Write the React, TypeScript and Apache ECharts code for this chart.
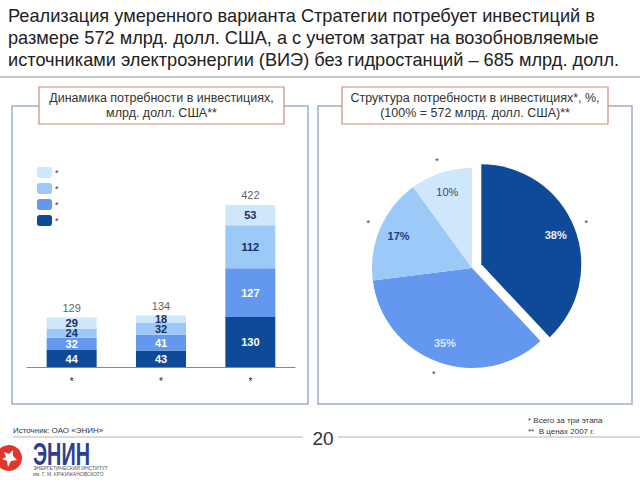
import React, { useEffect, useRef } from "react";
import * as echarts from "echarts";

const titleLines = [
  "Реализация умеренного варианта Стратегии потребует инвестиций в",
  "размере 572 млрд. долл. США, а с учетом затрат на возобновляемые",
  "источниками электроэнергии (ВИЭ) без гидростанций – 685 млрд. долл.",
];
const leftTitle = ["Динамика потребности в инвестициях,", "млрд. долл. США**"];
const rightTitle = ["Структура потребности в инвестициях*, %,", "(100% = 572 млрд. долл. США)**"];

const categories = ["*", "*", "*"];
const seriesNames = ["s1", "s2", "s3", "s4"];
const seriesValues1 = [44, 43, 130];
const seriesValues2 = [32, 41, 127];
const seriesValues3 = [24, 32, 112];
const seriesValues4 = [29, 18, 53];
const totals = [129, 134, 422];

const pieLabels = ["*", "*", "*", "*"];
const pieValues = [38, 35, 17, 10];

const footnotes = ["* Всего за три этапа", "**  В ценах 2007 г."];
const sourceText = "Источник: ОАО «ЭНИН»";
const pageNumber = "20";

const COLORS = ["#0E4A98", "#6498EE", "#9CC9F8", "#CFE7FB"];
const LABEL_COLORS = ["#FFFFFF", "#FFFFFF", "#1B2E5A", "#1B2E5A"];
const PIE_LABEL_COLORS = ["#E8EEFA", "#DCE6FA", "#1F3F80", "#3B4A66"];
const FONT = '"Liberation Sans", Arial, sans-serif';

export default function App() {
  const ref = useRef<HTMLDivElement>(null);
  useEffect(() => {
    if (!ref.current) return;
    const chart = echarts.init(ref.current, undefined, { renderer: "svg" });
    const barData = [seriesValues1, seriesValues2, seriesValues3, seriesValues4];
    const barSeries: any[] = barData.map((vals, i) => ({
      name: seriesNames[i],
      type: "bar",
      stack: "a",
      barWidth: 50,
      data: vals,
      itemStyle: { color: COLORS[i] },
      label: {
        show: true,
        position: "inside",
        color: LABEL_COLORS[i],
        fontSize: 11,
        fontWeight: "bold",
        fontFamily: FONT,
      },
      z: 2,
    }));
    barSeries.push({
      name: "totals",
      type: "scatter",
      data: totals,
      symbolSize: 0,
      itemStyle: { color: "transparent" },
      label: {
        show: true,
        position: "top",
        distance: 4,
        color: "#333",
        fontSize: 11,
        fontFamily: FONT,
      },
      silent: true,
    });

    const pieMain = pieValues.map((v, i) => ({
      value: v,
      name: "p" + i,
      selected: i === 0,
      itemStyle: { color: COLORS[i] },
    }));
    const pieInner = pieValues.map((v, i) => ({
      value: v,
      name: "p" + i,
      selected: i === 0,
      label: { color: PIE_LABEL_COLORS[i], fontWeight: i === 3 ? "normal" : "bold" },
    }));
    const pieOuter = pieValues.map((v, i) => ({
      value: v,
      name: pieLabels[i] + i,
      selected: i === 0,
    }));

    const txt = (text: string, x: number, y: number, size: number, extra: any = {}) => ({
      type: "text",
      x,
      y,
      style: {
        text,
        fill: "#222",
        font: `${size}px ${FONT}`,
        verticalAlign: "middle",
        ...extra,
      },
    });

    const graphic: any[] = [
      ...titleLines.map((t, i) => txt(t, 8, 16 + 22 * i, 18.2, { fill: "#222" })),
      { type: "line", shape: { x1: 0, y1: 77, x2: 640, y2: 77 }, style: { stroke: "#B4B4B4", lineWidth: 1.5 } },
      { type: "rect", shape: { x: 12, y: 106, width: 296, height: 298 }, style: { fill: "none", stroke: "#9AAECB", lineWidth: 1.5 } },
      { type: "rect", shape: { x: 318, y: 106, width: 314, height: 298 }, style: { fill: "none", stroke: "#9AAECB", lineWidth: 1.5 } },
      { type: "rect", shape: { x: 39, y: 87, width: 245, height: 37 }, style: { fill: "#fff", stroke: "#C98A7C", lineWidth: 1.2 } },
      { type: "rect", shape: { x: 342, y: 87, width: 266, height: 37 }, style: { fill: "#fff", stroke: "#C98A7C", lineWidth: 1.2 } },
      ...leftTitle.map((t, i) => txt(t, 161.5, 98 + 15 * i, 12.5, { align: "center", fill: "#333" })),
      ...rightTitle.map((t, i) => txt(t, 475, 98 + 15 * i, 12.5, { align: "center", fill: "#333" })),
      ...footnotes.map((t, i) => txt(t, 528, 420 + 11 * i, 8, { fill: "#333" })),
      txt(sourceText, 13, 430, 8, { fill: "#333" }),
      { type: "line", shape: { x1: 13, y1: 437, x2: 303, y2: 437 }, style: { stroke: "#B4B4B4", lineWidth: 1 } },
      { type: "line", shape: { x1: 338, y1: 437, x2: 640, y2: 437 }, style: { stroke: "#B4B4B4", lineWidth: 1 } },
      txt(pageNumber, 323, 438, 19, { align: "center", fill: "#333" }),
      { type: "circle", shape: { cx: 9, cy: 458, r: 13 }, style: { fill: "#E2352B" } },
      {
        type: "polygon",
        shape: { points: [[4, 452], [9, 454], [13, 450], [13, 456], [17, 460], [11, 461], [8, 467], [7, 461], [2, 459], [6, 457]] },
        style: { fill: "#fff" },
      },
      {
        type: "text",
        x: 33,
        y: 438,
        scaleX: 0.62,
        style: { text: "ЭНИН", fill: "#2E3F8F", font: `bold 32px ${FONT}`, verticalAlign: "top" },
      },
      txt("ЭНЕРГЕТИЧЕСКИЙ ИНСТИТУТ", 33, 468, 5, { fill: "#555" }),
      txt("им. Г. М. КРЖИЖАНОВСКОГО", 33, 474, 5, { fill: "#555" }),
    ];

    chart.setOption({
      animation: false,
      textStyle: { fontFamily: FONT },
      legend: {
        orient: "vertical",
        left: 32,
        top: 162,
        itemWidth: 15,
        itemHeight: 11,
        itemGap: 5,
        data: [...seriesNames].reverse(),
        formatter: () => "*",
        textStyle: { fontSize: 9, color: "#333", padding: [0, 0, 0, -2] },
        selectedMode: false,
      },
      grid: { left: 27, right: 345, top: 175, bottom: 113 },
      xAxis: {
        type: "category",
        data: categories,
        axisLine: { lineStyle: { color: "#888", width: 1 } },
        axisTick: { show: false },
        axisLabel: { color: "#222", fontSize: 10, margin: 9 },
      },
      yAxis: { type: "value", min: 0, max: 500, show: false, splitLine: { show: false } },
      series: [
        ...barSeries,
        {
          type: "pie",
          center: [472, 268],
          radius: [0, 100],
          startAngle: 90,
          selectedMode: "single",
          selectedOffset: 10,
          data: pieMain,
          label: { show: false },
          labelLine: { show: false },
          silent: true,
          emphasis: { disabled: true },
        },
        {
          type: "pie",
          center: [472, 268],
          radius: [54, 100],
          startAngle: 90,
          selectedMode: "single",
          selectedOffset: 10,
          data: pieInner,
          itemStyle: { color: "transparent", borderWidth: 0 },
          label: { show: true, position: "inside", formatter: "{c}%", fontSize: 11, fontWeight: "bold" },
          labelLine: { show: false },
          silent: true,
          emphasis: { disabled: true },
        },
        {
          type: "pie",
          center: [472, 268],
          radius: [100, 120],
          startAngle: 90,
          selectedMode: "single",
          selectedOffset: 10,
          data: pieOuter,
          itemStyle: { color: "transparent", borderWidth: 0 },
          label: { show: true, position: "inside", formatter: () => "*", fontSize: 9, color: "#333" },
          labelLine: { show: false },
          silent: true,
          emphasis: { disabled: true },
        },
      ],
      graphic,
    });
    return () => chart.dispose();
  }, []);
  return (
    <div
      ref={ref}
      style={{ position: "fixed", left: 0, top: 0, width: 640, height: 480, background: "#fff" }}
    />
  );
}
